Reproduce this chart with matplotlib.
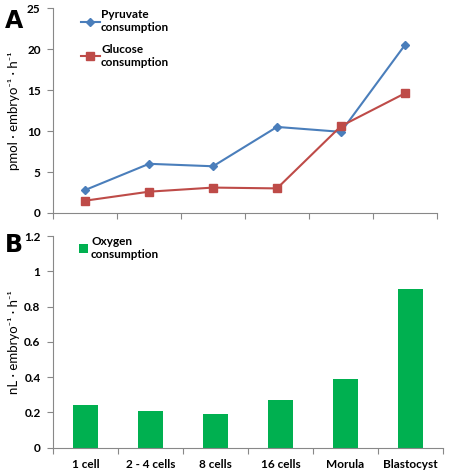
import numpy as np
import matplotlib.pyplot as plt

stages = ["1 cell", "2 - 4 cells", "8 cells", "16 cells", "Morula", "Blastocyst"]
pyruvate = [2.8, 6.0, 5.7, 10.5, 9.9, 20.5]
glucose = [1.5, 2.6, 3.1, 3.0, 10.6, 14.6]
oxygen = [0.24, 0.21, 0.19, 0.27, 0.39, 0.90]

plt.rcParams['font.family'] = ['Lato', 'DejaVu Sans']

blue = "#4a7ebb"
red = "#be4b48"
green = "#00b050"
grey = "#888888"

fig = plt.figure(figsize=(4.5, 4.75), dpi=100)
ax1 = fig.add_axes([0.118, 0.5516, 0.853, 0.4314])
ax2 = fig.add_axes([0.118, 0.0575, 0.866, 0.4455])

x = np.arange(len(stages))

# A: pyruvate / glucose
ax1.plot(x, pyruvate, color=blue, lw=1.5, marker="D", ms=4, label="Pyruvate\nconsumption")
ax1.plot(x, glucose, color=red, lw=1.5, marker="s", ms=5.5, label="Glucose\nconsumption")
ax1.set_xlim(-0.5, len(stages) - 0.5)
ax1.set_ylim(0, 25)
ax1.set_yticks([0, 5, 10, 15, 20, 25])
ax1.set_xticks(np.arange(len(stages) + 1) - 0.5)
ax1.set_xticklabels([])
ax1.set_ylabel("pmol · embryo⁻¹ · h⁻¹", fontsize=9.5)
ax1.yaxis.set_label_coords(-0.085, 0.5)
ax1.legend(loc="upper left", bbox_to_anchor=(0.045, 1.045), frameon=False,
           prop={"weight": "bold", "size": 8.5}, handlelength=1.6, labelspacing=0.9,
           handletextpad=0.1)

# B: oxygen
ax2.bar(x, oxygen, width=0.39, color=green, label="Oxygen\nconsumption")
ax2.set_xlim(-0.5, len(stages) - 0.5)
ax2.set_ylim(0, 1.2)
ax2.set_yticks([0, 0.2, 0.4, 0.6, 0.8, 1, 1.2])
ax2.set_yticklabels(["0", "0.2", "0.4", "0.6", "0.8", "1", "1.2"])
ax2.set_xticks(np.arange(len(stages) + 1) - 0.5)
ax2.set_xticklabels([])
ax2.set_xticks(x, minor=True)
ax2.set_xticklabels(stages, minor=True, fontweight="bold", fontsize=8.5)
ax2.tick_params(axis="x", which="minor", length=0, pad=8)
ax2.set_ylabel("nL · embryo⁻¹ · h⁻¹", fontsize=9.5)
ax2.yaxis.set_label_coords(-0.085, 0.5)
ax2.legend(loc="upper left", bbox_to_anchor=(0.04, 1.05), frameon=False,
           prop={"weight": "bold", "size": 8.5}, handlelength=0.7, handleheight=0.7,
           handletextpad=0.3)

for ax in (ax1, ax2):
    for s in ("top", "right"):
        ax.spines[s].set_visible(False)
    ax.spines["left"].set_color(grey)
    ax.spines["bottom"].set_color(grey)
    ax.tick_params(axis="both", which="major", color=grey, length=4, labelsize=8.5)
    for lab in ax.get_yticklabels():
        lab.set_fontweight("bold")
    ax.tick_params(axis="y", pad=5)

fig.text(0.01, 0.94, "A", fontsize=17, fontweight="bold", family="DejaVu Sans")
fig.text(0.01, 0.47, "B", fontsize=17, fontweight="bold", family="DejaVu Sans")

fig.savefig("out.png", dpi=100)
